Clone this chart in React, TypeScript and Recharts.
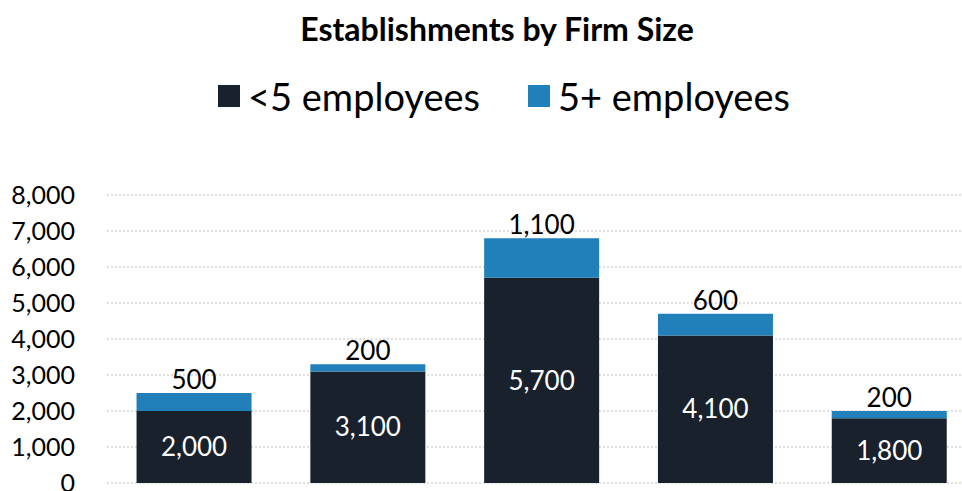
import React from 'react';
import { BarChart, Bar, XAxis, YAxis, CartesianGrid, LabelList } from 'recharts';

const categories = ['Group 1', 'Group 2', 'Group 3', 'Group 4', 'Group 5'];
const under5 = [2000, 3100, 5700, 4100, 1800];
const over5 = [500, 200, 1100, 600, 200];
const yTicks = [0, 1000, 2000, 3000, 4000, 5000, 6000, 7000, 8000];

const DARK = '#18212c';
const BLUE = '#2180ba';
const FONT = 'Lato, "Open Sans", sans-serif';

const data = categories.map((c, i) => ({ name: c, under5: under5[i], over5: over5[i] }));

const fmt = (v: any) => Number(v).toLocaleString('en-US');

const LegendItem = ({ color, label }: { color: string; label: string }) => (
  <div style={{ display: 'flex', alignItems: 'center', marginRight: 48 }}>
    <div style={{ width: 22, height: 22, background: color, marginRight: 8 }} />
    <span>{label}</span>
  </div>
);

const App = () => {
  return (
    <div
      style={{
        position: 'absolute',
        left: 0,
        top: 0,
        width: 962,
        height: 491,
        overflow: 'hidden',
        background: '#fff',
        fontFamily: FONT,
      }}
    >
      <div
        style={{
          position: 'absolute',
          top: 9,
          left: 0,
          width: 994,
          textAlign: 'center',
          fontWeight: 700,
          fontSize: 32,
          color: '#000',
        }}
      >
        Establishments by Firm Size
      </div>
      <div
        style={{
          position: 'absolute',
          top: 73,
          left: 218,
          display: 'flex',
          fontSize: 38,
          color: '#000',
        }}
      >
        <LegendItem color={DARK} label="<5 employees" />
        <LegendItem color={BLUE} label="5+ employees" />
      </div>
      <BarChart
        width={976}
        height={491}
        data={data}
        margin={{ top: 195, right: 0, left: 0, bottom: 8 }}
        barCategoryGap="17%"
      >
        <CartesianGrid vertical={false} strokeDasharray="2 2" stroke="#bfbfbf" />
        <XAxis dataKey="name" tick={false} tickLine={false} height={0} axisLine={{ stroke: '#d9d9d9' }} />
        <YAxis
          width={107}
          domain={[0, 8000]}
          ticks={yTicks}
          interval={0}
          axisLine={false}
          tickLine={false}
          tickSize={0}
          tickMargin={32}
          tickFormatter={fmt}
          tick={{ fontSize: 25, fill: '#000', fontFamily: FONT }}
        />
        <Bar dataKey="under5" stackId="a" fill={DARK} isAnimationActive={false}>
          <LabelList dataKey="under5" position="center" formatter={fmt} fill="#fff" fontSize={26} fontFamily={FONT} />
        </Bar>
        <Bar dataKey="over5" stackId="a" fill={BLUE} isAnimationActive={false}>
          <LabelList dataKey="over5" position="top" offset={4} formatter={fmt} fill="#000" fontSize={26} fontFamily={FONT} />
        </Bar>
      </BarChart>
    </div>
  );
};

export default App;
